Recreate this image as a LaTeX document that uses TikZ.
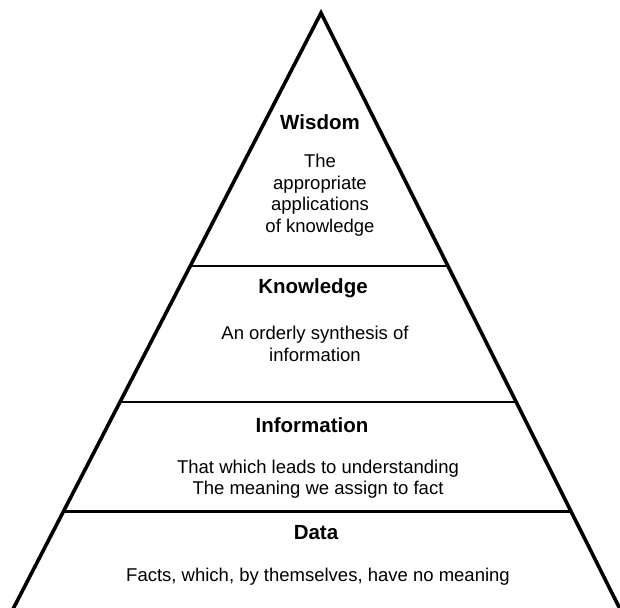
\documentclass[tikz,border=0pt]{standalone}
\usepackage{fontspec}
\setmainfont{Liberation Sans}
\usetikzlibrary{calc}
\begin{document}
\begin{tikzpicture}[x=1pt,y=1pt,
  edge/.style={line width=3.6pt,line cap=round},
  tier/.style={line width=2.2pt},
  title/.style={font=\fontsize{20.5}{23}\selectfont\bfseries,inner sep=0pt},
  body/.style={font=\fontsize{18.5}{21.5}\selectfont,align=center,inner sep=0pt}]
\useasboundingbox (0,0) rectangle (620,607);
\coordinate (apex) at (321,594);
\coordinate (bl) at (12,-4);
\coordinate (br) at (621,-4);
\draw[edge] (bl) -- (apex) -- (br);
% tier lines
\coordinate (l1) at ($(apex)!0.4234!(bl)$);
\coordinate (r1) at ($(apex)!0.4234!(br)$);
\coordinate (l2) at ($(apex)!0.6509!(bl)$);
\coordinate (r2) at ($(apex)!0.6509!(br)$);
\coordinate (l3) at ($(apex)!0.8336!(bl)$);
\coordinate (r3) at ($(apex)!0.8336!(br)$);
\draw[tier] (l1) -- (r1);
\draw[tier] (l2) -- (r2);
\draw[tier] (l3) -- (r3);
% texts
\node[title] (wt) at (320,485) {Wisdom};
\node[body] (wb) at (320,412) {The\\appropriate\\applications\\of knowledge};
\node[title] (kt) at (313,319) {Knowledge};
\node[body] (kb) at (315,263) {An orderly synthesis of\\information};
\node[title] (it) at (312,182) {Information};
\node[body] (ib) at (318,128) {That which leads to understanding\\The meaning we assign to fact};
\node[title] (dt) at (316,74) {Data};
\node[body] (db) at (318,30) {Facts, which, by themselves, have no meaning};
\end{tikzpicture}
\end{document}
